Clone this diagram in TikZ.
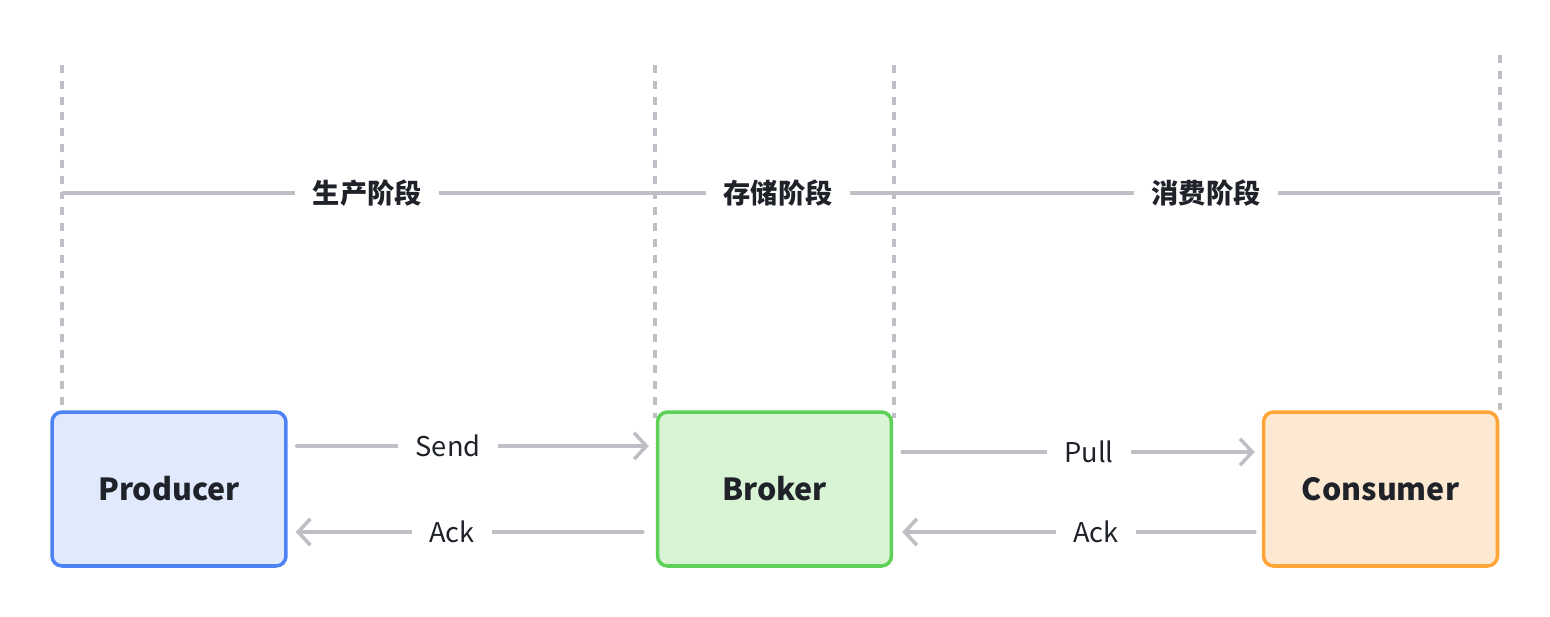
\documentclass[tikz,border=0pt]{standalone}
\usepackage{fontspec}
\setmainfont{Noto Sans CJK SC}
\usetikzlibrary{arrows.meta,calc}
\definecolor{linegray}{HTML}{BEBFC4}
\definecolor{ink}{HTML}{1F2329}
\definecolor{prodline}{HTML}{4E83F5}
\definecolor{prodfill}{HTML}{E1EAFD}
\definecolor{brokline}{HTML}{5ED158}
\definecolor{brokfill}{HTML}{D9F4D5}
\definecolor{consline}{HTML}{FFA436}
\definecolor{consfill}{HTML}{FDE8D2}

\begin{document}
\begin{tikzpicture}[x=0.02cm,y=-0.02cm,
  box/.style={draw,line width=2pt,rounded corners=0.2cm,minimum width=4.68cm,minimum height=3.08cm,
    font=\fontsize{17.3}{20}\selectfont\bfseries,text=ink},
  guide/.style={linegray,line width=2pt,dash pattern=on 4.5pt off 4.5pt},
  phase/.style={linegray,line width=2pt},
  flow/.style={linegray,line width=2pt,line cap=round,-{Straight Barb[length=7pt,width=15pt]}},
  tag/.style={fill=white,text=ink,inner xsep=10pt,font=\fontsize{15.5}{19}\selectfont},
  phasetag/.style={tag,font=\fontsize{15.5}{19}\selectfont\bfseries}]

  \useasboundingbox (0,0) rectangle (1550,616);

  \coordinate (g1t) at (62,65);   \coordinate (g1b) at (62,410);
  \coordinate (g2t) at (655,65);  \coordinate (g2b) at (655,418);
  \coordinate (g3t) at (894,65);  \coordinate (g3b) at (894,418);
  \coordinate (g4t) at (1500,55); \coordinate (g4b) at (1500,410);

  \draw[guide] (g1t) -- (g1b);
  \draw[guide] (g2t) -- (g2b);
  \draw[guide] (g3t) -- (g3b);
  \draw[guide] (g4t) -- (g4b);

  \coordinate (p1) at (62,193);
  \coordinate (p2) at (655,193);
  \coordinate (p3) at (894,193);
  \coordinate (p4) at (1500,193);

  \draw[phase] (p1) -- node[phasetag,pos=0.515] (stage1) {生产阶段}
    (p2) -- node[phasetag,pos=0.515] (stage2) {存储阶段}
    (p3) -- node[phasetag,pos=0.515] (stage3) {消费阶段} (p4);

  \draw (169,489) node[box,draw=prodline,fill=prodfill] (prod) {Producer};
  \draw (774.5,489) node[box,draw=brokline,fill=brokfill] (brok) {Broker};
  \draw (1380.5,489) node[box,draw=consline,fill=consfill] (cons) {Consumer};

  \draw[flow] ($(prod.east)+(9,-43)$) -- node[tag,pos=0.43] (send) {Send} ($(brok.west)+(-7,-43)$);
  \draw[flow] ($(brok.west)+(-13,43)$) -- node[tag,pos=0.55] (ack1) {Ack} ($(prod.east)+(8,43)$);
  \draw[flow] ($(brok.east)+(9,-37)$) -- node[tag,pos=0.53] (pull) {Pull} ($(cons.west)+(-7,-37)$);
  \draw[flow] ($(cons.west)+(-7,43)$) -- node[tag,pos=0.45] (ack2) {Ack} ($(brok.east)+(9,43)$);

\end{tikzpicture}
\end{document}
